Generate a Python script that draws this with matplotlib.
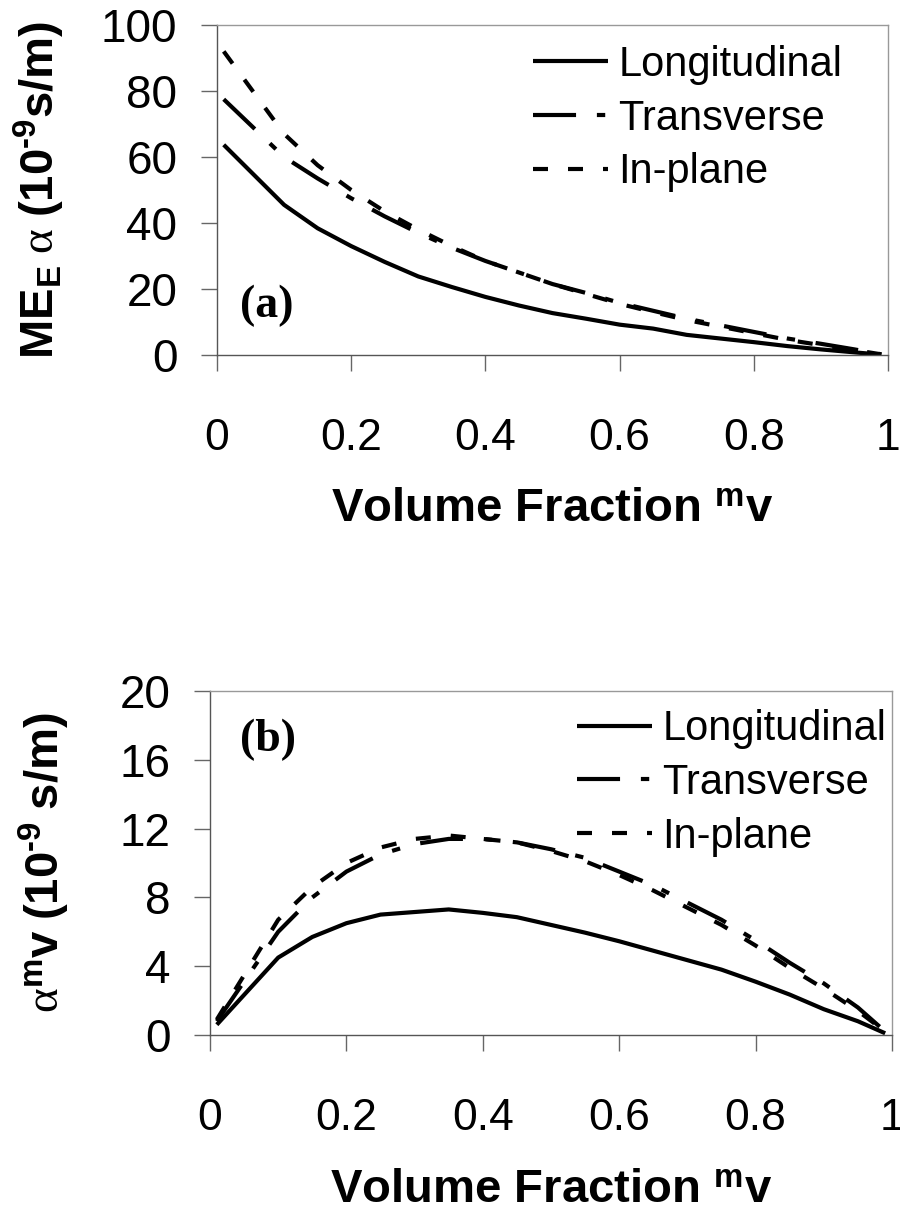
import numpy as np
import matplotlib
matplotlib.use("Agg")
from matplotlib import pyplot as plt

#------------------------------------------------------------
# fonts: Arial-like sans for text, Times-like serif for alpha and panel tags
plt.rcParams['font.family'] = ['Liberation Sans', 'DejaVu Sans']
plt.rcParams['mathtext.fontset'] = 'custom'
plt.rcParams['mathtext.rm'] = 'Liberation Serif'
plt.rcParams['mathtext.it'] = 'Liberation Serif:italic'
plt.rcParams['mathtext.bf'] = 'Liberation Sans:bold'
plt.rcParams['lines.scale_dashes'] = False

#------------------------------------------------------------
# data
vf = [0.01, 0.1, 0.15, 0.2, 0.25, 0.3, 0.35, 0.4, 0.45, 0.5,
      0.55, 0.6, 0.65, 0.7, 0.75, 0.8, 0.85, 0.9, 0.95, 0.99]

me_long = [63.7, 45.5, 38.4, 33.0, 28.2, 23.8, 20.6, 17.6, 15.0, 12.7,
           11.0, 9.2, 8.0, 6.1, 5.0, 3.9, 2.7, 1.7, 0.8, 0.1]
me_trans = [77.5, 60.0, 53.5, 47.5, 42.0, 37.0, 32.5, 28.5, 25.0, 21.5,
            18.8, 15.8, 13.4, 11.0, 9.0, 7.0, 5.0, 3.4, 1.7, 0.2]
me_inplane = [92.0, 67.0, 57.5, 50.0, 43.5, 38.0, 33.0, 28.5, 25.0, 21.5,
              18.5, 15.5, 13.0, 10.6, 8.6, 6.6, 4.6, 3.0, 1.5, 0.2]

al_long = [0.6, 4.5, 5.7, 6.5, 7.0, 7.15, 7.3, 7.1, 6.85, 6.4,
           5.95, 5.45, 4.9, 4.35, 3.8, 3.1, 2.35, 1.5, 0.8, 0.1]
al_trans = [0.8, 6.0, 8.0, 9.5, 10.5, 11.1, 11.4, 11.4, 11.2, 10.8,
            10.3, 9.5, 8.7, 7.7, 6.7, 5.5, 4.2, 3.0, 1.6, 0.2]
al_inplane = [0.9, 6.7, 8.6, 10.0, 10.9, 11.4, 11.6, 11.4, 11.2, 10.7,
              10.1, 9.3, 8.4, 7.4, 6.4, 5.2, 3.9, 2.7, 1.4, 0.2]

labels = ['Longitudinal', 'Transverse', 'In-plane']
dashes = [None, (31, 15, 6, 15), (10.8, 14.4)]

xticks = [0, 0.2, 0.4, 0.6, 0.8, 1]
xticklabels = ['0', '0.2', '0.4', '0.6', '0.8', '1']
yticks_a = [0, 20, 40, 60, 80, 100]
yticks_b = [0, 4, 8, 12, 16, 20]

#------------------------------------------------------------
fig = plt.figure(figsize=(9, 12.19), dpi=100)
W, H = 900., 1219.
ax_a = fig.add_axes([217 / W, 1 - 355 / H, 671 / W, 330 / H])
ax_b = fig.add_axes([210 / W, 1 - 1035 / H, 682 / W, 344 / H])


def style_axes(ax, yticks, ylabel, ylab_x, xlab_pad, tag, tagpos, legpos):
    ax.set_xlim(0, 1)
    ax.set_ylim(yticks[0], yticks[-1])
    ax.set_xticks(xticks)
    ax.set_xticklabels(xticklabels)
    ax.set_yticks(yticks)
    ax.tick_params(axis='both', direction='out', length=11.5, width=1,
                   color='#666666', labelsize=33)
    ax.tick_params(axis='x', pad=34, labelsize=32)
    ax.tick_params(axis='y', pad=17)
    for side in ['left', 'bottom']:
        ax.spines[side].set_color('#555555')
        ax.spines[side].set_linewidth(1)
    for side in ['top', 'right']:
        ax.spines[side].set_color('#999999')
        ax.spines[side].set_linewidth(1)
    ax.set_xlabel(r'Volume Fraction ${}^{\mathbf{m}}$v', fontsize=34,
                  fontweight='bold', labelpad=xlab_pad)
    ax.set_ylabel(ylabel, fontsize=34, fontweight='bold')
    ax.yaxis.set_label_coords(ylab_x, 0.5)
    ax.text(tagpos[0], tagpos[1], tag, transform=ax.transAxes,
            fontsize=33, fontweight='bold', family='Liberation Serif',
            va='center', ha='left')
    ax.legend(loc='upper left', bbox_to_anchor=legpos, frameon=False,
              fontsize=30, handlelength=1.8, handletextpad=0.25,
              labelspacing=0.33, borderpad=0, borderaxespad=0)


for ax, ys in [(ax_a, [me_long, me_trans, me_inplane]),
               (ax_b, [al_long, al_trans, al_inplane])]:
    for y, lab, d in zip(ys, labels, dashes):
        line, = ax.plot(vf, y, color='black', lw=3, label=lab,
                        solid_capstyle='butt', dash_capstyle='butt',
                        solid_joinstyle='miter')
        if d is not None:
            line.set_dashes(d)

style_axes(ax_a, yticks_a,
           '$\\mathbf{ME_{E}}\\ \\mathrm{\\alpha}\\ \\mathbf{(10^{\u20109}s/m)}$',
           -0.2235, 20, '(a)', (0.034, 0.148), (0.471, 0.94))
style_axes(ax_b, yticks_b,
           '$\\mathrm{\\alpha}^{\\mathbf{m}}\\mathbf{v\\ (10^{\u20109}\\ s/m)}$',
           -0.202, 21, '(b)', (0.044, 0.858), (0.538, 0.947))

fig.savefig('out.png', dpi=100)
